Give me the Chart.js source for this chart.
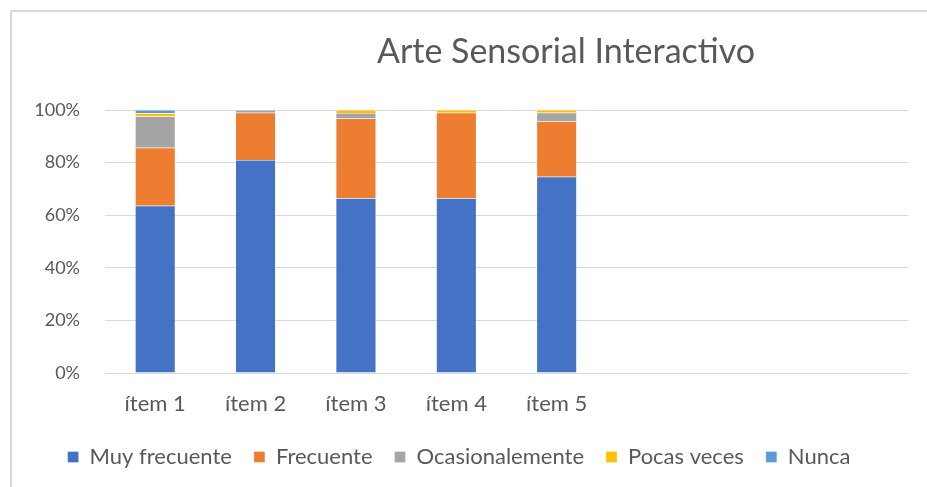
<!DOCTYPE html>
<html lang="es">
<head>
  <meta charset="UTF-8">
  <title>Arte Sensorial Interactivo</title>
  <script src="https://cdn.jsdelivr.net/npm/chart.js"></script>
  <style>
    body {
      margin: 0;
      padding: 0;
      background: #fff;
    }
    #wrap {
      position: relative;
      width: 927px;
      height: 487px;
    }
    #frame {
      position: absolute;
      left: 10px;
      top: 10px;
      right: -5px;
      bottom: -5px;
      border-left: 2px solid #d9d9d9;
      border-top: 2px solid #d9d9d9;
    }
    canvas {
      position: absolute;
      left: 0;
      top: 0;
    }
  </style>
</head>
<body>
  <div id="wrap">
    <div id="frame"></div>
    <canvas id="chart" width="927" height="487"></canvas>
  </div>

  <script>
    const categories = ['ítem 1', 'ítem 2', 'ítem 3', 'ítem 4', 'ítem 5', '', '', ''];
    const muyFrecuente = [63.6, 81.0, 66.4, 66.4, 74.6];
    const frecuente = [22.0, 18.0, 30.4, 32.6, 21.1];
    const ocasionalmente = [12.0, 1.0, 2.1, 0, 3.3];
    const pocasVeces = [1.2, 0, 1.1, 1.0, 1.0];
    const nunca = [1.2, 0, 0, 0, 0];
    const yTicks = [0, 20, 40, 60, 80, 100];

    const font = '"Lato", "Open Sans", sans-serif';
    const grey = '#595959';

    // title sits off-centre in the original, draw it by hand
    const titlePlugin = {
      id: 'titleText',
      afterDraw(chart) {
        const ctx = chart.ctx;
        ctx.save();
        ctx.font = '34px ' + font;
        ctx.fillStyle = grey;
        ctx.textAlign = 'center';
        ctx.textBaseline = 'middle';
        ctx.fillText('Arte Sensorial Interactivo', 566, 52);
        ctx.restore();
      }
    };

    function ds(label, data, color) {
      return {
        label: label,
        data: data,
        backgroundColor: color,
        borderColor: 'rgba(255,255,255,0.6)',
        borderWidth: 0.5,
        barPercentage: 0.8,
        categoryPercentage: 0.5
      };
    }

    new Chart(document.getElementById('chart').getContext('2d'), {
      type: 'bar',
      data: {
        labels: categories,
        datasets: [
          ds('Muy frecuente', muyFrecuente, '#4472C4'),
          ds('Frecuente', frecuente, '#ED7D31'),
          ds('Ocasionalemente', ocasionalmente, '#A5A5A5'),
          ds('Pocas veces', pocasVeces, '#FFC000'),
          ds('Nunca', nunca, '#5B9BD5')
        ]
      },
      options: {
        responsive: false,
        animation: false,
        layout: {
          padding: { left: 10, right: 19, top: 110, bottom: 9 }
        },
        plugins: {
          title: { display: false },
          tooltip: { enabled: false },
          legend: {
            position: 'bottom',
            labels: {
              boxWidth: 11,
              boxHeight: 11,
              padding: 22,
              color: grey,
              font: { family: font, size: 22 }
            }
          }
        },
        scales: {
          x: {
            stacked: true,
            grid: { display: false, drawTicks: false },
            border: { color: '#d9d9d9', width: 1 },
            ticks: {
              color: grey,
              padding: 18,
              maxRotation: 0,
              font: { family: font, size: 22 }
            },
            afterFit(s) { s.height = 51; }
          },
          y: {
            stacked: true,
            min: 0,
            max: 100,
            afterBuildTicks(s) { s.ticks = yTicks.map(v => ({ value: v })); },
            grid: { color: '#d9d9d9', lineWidth: 1, drawTicks: false },
            border: { display: false },
            ticks: {
              color: grey,
              padding: 25,
              font: { family: font, size: 18 },
              callback: v => v + '%'
            },
            afterFit(s) { s.width = 95; }
          }
        }
      },
      plugins: [titlePlugin]
    });
  </script>
</body>
</html>
